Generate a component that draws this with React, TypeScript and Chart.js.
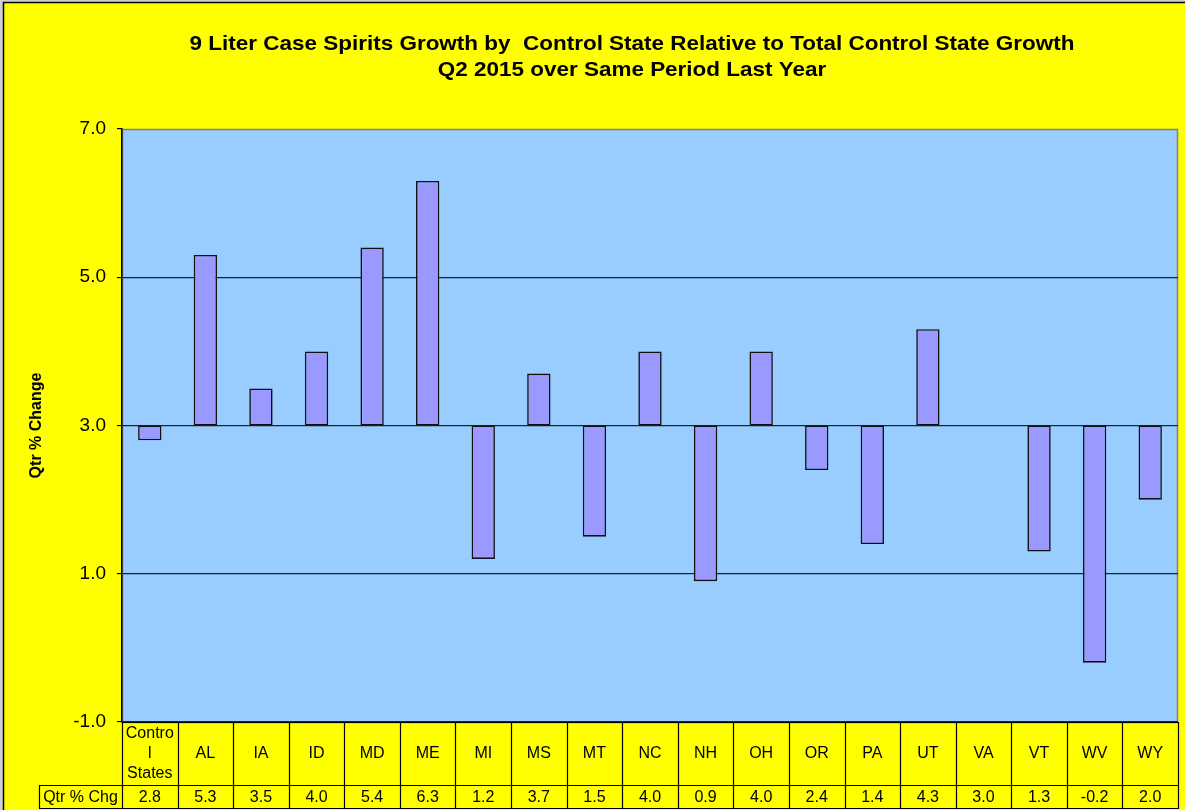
import React, { useEffect, useRef } from "react";
import { Chart, registerables } from "chart.js";

Chart.register(...registerables);

// ---- Data ----
const categories: string[] = [
  "Control States", "AL", "IA", "ID", "MD", "ME", "MI", "MS", "MT", "NC",
  "NH", "OH", "OR", "PA", "UT", "VA", "VT", "WV", "WY",
];
// How each category label is wrapped in the data table (as shown in the reference)
const categoryTableLines: string[][] = [
  ["Contro", "l", "States"], ["AL"], ["IA"], ["ID"], ["MD"], ["ME"], ["MI"], ["MS"], ["MT"], ["NC"],
  ["NH"], ["OH"], ["OR"], ["PA"], ["UT"], ["VA"], ["VT"], ["WV"], ["WY"],
];
const qtrPctChg: number[] = [
  2.8, 5.3, 3.5, 4.0, 5.4, 6.3, 1.2, 3.7, 1.5, 4.0,
  0.9, 4.0, 2.4, 1.4, 4.3, 3.0, 1.3, -0.2, 2.0,
];
const baseline = 3.0;
const yTicks: number[] = [-1, 1, 3, 5, 7];
const titleLines: string[] = [
  "9 Liter Case Spirits Growth by  Control State Relative to Total Control State Growth",
  "Q2 2015 over Same Period Last Year",
];
const yAxisTitle = "Qtr % Change";
const tableRowLabel = "Qtr % Chg";

const FONT = "'Liberation Sans', Arial, Helvetica, sans-serif";

const decorPlugin = {
  id: "decor",
  beforeDraw(chart: any) {
    const { ctx, chartArea: a, width, height } = chart;
    ctx.save();
    ctx.fillStyle = "#d0d0d0";
    ctx.fillRect(0, 0, width, height);
    ctx.fillStyle = "#FFFF00";
    ctx.fillRect(3, 2, width, height);
    ctx.strokeStyle = "#000";
    ctx.lineWidth = 1.5;
    ctx.beginPath();
    ctx.moveTo(3.5, height);
    ctx.lineTo(3.5, 2.5);
    ctx.lineTo(width, 2.5);
    ctx.stroke();
    ctx.fillStyle = "#99CCFF";
    ctx.fillRect(a.left, a.top, a.right - a.left, a.bottom - a.top);
    ctx.strokeStyle = "#808080";
    ctx.lineWidth = 1.5;
    ctx.strokeRect(a.left + 0.5, a.top + 0.5, a.right - a.left - 1, a.bottom - a.top);
    ctx.restore();
  },
  afterDraw(chart: any) {
    const { ctx, chartArea: a } = chart;
    const xs = chart.scales.x;
    const n = categories.length;
    const cw = (a.right - a.left) / n;
    ctx.save();

    // Title
    ctx.fillStyle = "#000";
    ctx.font = `bold 21px ${FONT}`;
    ctx.textAlign = "center";
    ctx.textBaseline = "alphabetic";
    const titleY = [50, 76];
    titleLines.forEach((t, i) => {
      ctx.save();
      ctx.translate(632, titleY[i]);
      ctx.scale(1.07, 1);
      ctx.fillText(t, 0, 0);
      ctx.restore();
    });

    // Data table
    const rowTop = a.bottom;
    const rowMid = a.bottom + 63;
    const rowBot = a.bottom + 86;
    const labelLeft = 39;
    ctx.strokeStyle = "#000";
    ctx.lineWidth = 1.2;
    ctx.beginPath();
    ctx.moveTo(a.left, rowTop + 0.5);
    ctx.lineTo(a.right, rowTop + 0.5);
    ctx.moveTo(labelLeft, rowMid + 0.5);
    ctx.lineTo(a.right, rowMid + 0.5);
    ctx.moveTo(labelLeft, rowBot + 0.5);
    ctx.lineTo(a.right, rowBot + 0.5);
    ctx.moveTo(labelLeft + 0.5, rowMid);
    ctx.lineTo(labelLeft + 0.5, rowBot);
    for (let i = 0; i <= n; i++) {
      const x = i < n ? xs.getPixelForValue(i) - cw / 2 : xs.getPixelForValue(n - 1) + cw / 2;
      const xx = Math.round(x) + 0.5;
      ctx.moveTo(xx, rowTop);
      ctx.lineTo(xx, rowBot + 1);
    }
    ctx.stroke();

    ctx.font = `16px ${FONT}`;
    ctx.textAlign = "center";
    ctx.textBaseline = "middle";
    const hdrMid = (rowTop + rowMid) / 2;
    const lh = 19.7;
    for (let i = 0; i < n; i++) {
      const cx = xs.getPixelForValue(i);
      const lines = categoryTableLines[i];
      lines.forEach((ln, j) => {
        const y = hdrMid + (j - (lines.length - 1) / 2) * lh;
        ctx.fillText(ln, cx, y);
      });
      ctx.fillText(qtrPctChg[i].toFixed(1), cx, (rowMid + rowBot) / 2 + 1);
    }
    ctx.fillText(tableRowLabel, (labelLeft + a.left) / 2, (rowMid + rowBot) / 2 + 1);
    ctx.restore();
  },
};

export default function App() {
  const canvasRef = useRef<HTMLCanvasElement | null>(null);

  useEffect(() => {
    if (!canvasRef.current) return;
    const chart = new Chart(canvasRef.current, {
      type: "bar",
      data: {
        labels: categories,
        datasets: [
          {
            label: tableRowLabel,
            data: qtrPctChg.map((v) => [baseline, v]) as any,
            backgroundColor: "#9999FF",
            borderColor: "#111",
            borderWidth: 1.6,
            borderSkipped: false,
            barPercentage: 0.42,
            categoryPercentage: 1,
          },
        ],
      },
      options: {
        responsive: false,
        animation: false,
        devicePixelRatio: 1,
        layout: { padding: { top: 129, bottom: 88, right: 7, left: 0 } },
        plugins: {
          legend: { display: false },
          title: { display: false },
          tooltip: { enabled: false },
        },
        scales: {
          x: { type: "category", display: false, offset: true },
          y: {
            type: "linear",
            min: -1,
            max: 7,
            afterBuildTicks: (scale: any) => {
              scale.ticks = yTicks.map((v) => ({ value: v }));
            },
            afterFit: (scale: any) => {
              scale.width = 122;
            },
            ticks: {
              color: "#000",
              font: { family: FONT, size: 19 },
              padding: 11,
              callback: (v: any) => Number(v).toFixed(1),
            },
            grid: {
              color: (c: any) => (c.tick && c.tick.value === 7 ? "rgba(0,0,0,0)" : "#222"),
              tickColor: "#000",
              tickLength: 5,
              lineWidth: 1.2,
            },
            border: { display: true, color: "#000", width: 1.5 },
            title: {
              display: true,
              text: yAxisTitle,
              color: "#000",
              font: { family: FONT, size: 16, weight: "bold" },
              padding: { top: 27, bottom: 0 },
            },
          },
        },
      },
      plugins: [decorPlugin],
    });
    return () => chart.destroy();
  }, []);

  return (
    <div style={{ position: "fixed", left: 0, top: 0, width: 1185, height: 810 }}>
      <canvas ref={canvasRef} width={1185} height={810} style={{ display: "block" }} />
    </div>
  );
}
